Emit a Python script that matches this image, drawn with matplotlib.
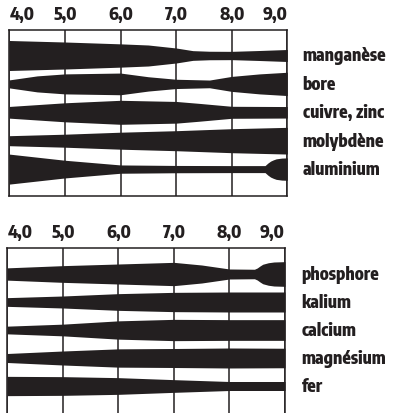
import numpy as np
import matplotlib
matplotlib.use("Agg")
import matplotlib.pyplot as plt

plt.rcParams['font.family'] = ['Encode Sans Condensed', 'DejaVu Sans']

# pH axis labels
ph_ticks = [4.0, 5.0, 6.0, 7.0, 8.0, 9.0]
ph_labels = ["4,0", "5,0", "6,0", "7,0", "8,0", "9,0"]

# upper panel: band thickness (px) read at given pH points
top_names = ["manganèse", "bore", "cuivre, zinc", "molybdène", "aluminium"]
mn_ph = [4.0, 5.0, 6.0, 6.5, 7.0, 7.3, 7.6, 8.0, 8.5, 9.0]
mn_w = [30, 27, 23.3, 21, 15, 9.7, 8.5, 8.3, 10, 12]
b_ph = [4.0, 4.5, 5.0, 6.0, 6.5, 7.0, 7.6, 8.0, 8.5, 9.0]
b_w = [8, 16, 20, 21.7, 14.3, 9.3, 7.7, 15, 20, 23.3]
cu_ph = [4.0, 5.0, 6.0, 7.0, 7.4, 8.0, 9.0]
cu_w = [11.7, 19, 24, 21.7, 18, 12, 11.5]
mo_ph = [4.0, 5.0, 6.0, 7.0, 8.0, 9.0]
mo_w = [10, 13, 17, 20, 24, 26.7]
al_ph = [4.0, 5.0, 6.0, 7.0, 8.0, 8.6, 8.65, 8.7, 8.75, 8.8, 8.9, 9.0]
al_w = [30, 17.7, 8.3, 7.3, 7, 7, 12, 16, 18.5, 20.5, 22, 22.4]

# lower panel
bot_names = ["phosphore", "kalium", "calcium", "magnésium", "fer"]
p_ph = [4.0, 5.0, 6.0, 7.0, 7.5, 8.0, 8.45, 8.5, 8.55, 8.6, 8.7, 8.8, 9.0]
p_w = [12.3, 16.7, 20, 23.3, 18, 10, 9.5, 12, 16, 19.5, 22.5, 24, 24.7]
k_ph = [4.0, 5.0, 6.0, 7.0, 8.0, 9.0]
k_w = [8.7, 12, 16.7, 19.3, 20, 20]
ca_ph = [4.0, 5.0, 6.0, 7.0, 8.0, 9.0]
ca_w = [7.7, 11.7, 18.3, 21.3, 20.7, 20.7]
mg_ph = [4.0, 5.0, 6.0, 7.0, 8.0, 9.0]
mg_w = [9, 14, 18.3, 19, 20, 19.5]
fe_ph = [4.0, 5.0, 6.0, 7.0, 8.0, 9.0]
fe_w = [19.3, 18.7, 16.7, 12.7, 9, 9]

INK = "#231f20"
W, H = 399, 414
FS = 12.5


def draw_panel(ax, bands, names, row_px, label_x):
    for row, (ph, w) in enumerate(bands):
        half = np.array(w) / row_px / 2
        ax.fill_between(ph, row - half, row + half, color=INK, lw=0, zorder=3)
        ax.text(label_x, row, names[row], transform=ax.get_yaxis_transform(),
                ha="left", va="center", fontsize=FS, fontweight=800,
                color=INK, clip_on=False)
    ax.set_xlim(4, 9)
    ax.set_yticks([])
    ax.xaxis.tick_top()
    ax.set_xticks(ph_ticks)
    ax.set_xticklabels(ph_labels, fontsize=FS, fontweight=800, color=INK)
    labels = ax.get_xticklabels()
    labels[0].set_ha("left")
    labels[-1].set_ha("right")
    ax.tick_params(axis="x", length=0, pad=5)
    ax.grid(axis="x", color=INK, lw=1.1, zorder=1)
    for s in ax.spines.values():
        s.set_color(INK)
        s.set_linewidth(1.1)


fig = plt.figure(figsize=(W / 100, H / 100), dpi=100)

# upper panel box: x 9.3..287.3 px, y 30.7..196.7 px, rows at 56.5 + 28.4*i
ax1 = fig.add_axes([9.3 / W, 1 - 196.7 / H, 278 / W, 166 / H])
draw_panel(ax1, [(mn_ph, mn_w), (b_ph, b_w), (cu_ph, cu_w), (mo_ph, mo_w), (al_ph, al_w)],
           top_names, 28.4, 1.055)
ax1.set_ylim(4 + (196.7 - 170.1) / 28.4, -(56.5 - 30.7) / 28.4)

# lower panel box: x 7.3..285 px, y 249.3..414 px (open at bottom), rows at 275 + 28*i
ax2 = fig.add_axes([7.3 / W, 0, 277.7 / W, (H - 249.3) / H])
draw_panel(ax2, [(p_ph, p_w), (k_ph, k_w), (ca_ph, ca_w), (mg_ph, mg_w), (fe_ph, fe_w)],
           bot_names, 28, 1.06)
ax2.set_ylim(4 + (H - 387) / 28, -(275 - 249.3) / 28)
ax2.spines["bottom"].set_visible(False)

fig.savefig("out.png", dpi=100)
